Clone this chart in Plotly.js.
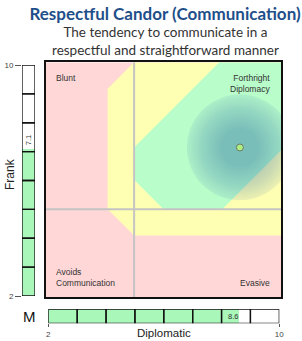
<!DOCTYPE html>
<html><head><meta charset="utf-8">
<script src="https://cdn.plot.ly/plotly-3.0.1.min.js"></script>
<style>html,body{margin:0;padding:0;background:#fff}#chart{width:302px;height:341px}</style>
</head><body><div id="chart"></div>
<script>
// ---- data ----
const diplomaticScore = 8.6;
const frankScore = 7.1;
const scaleTicks = [2, 3, 4, 5, 6, 7, 8, 9, 10];
const axisRange = [2, 10];
const midLines = [5];
const pinkZoneX = [2, 10, 10, 2];
const pinkZoneY = [2, 2, 10, 10];
const yellowZoneX = [5, 10, 10, 5, 4.1, 4.1];
const yellowZoneY = [10, 10, 4.1, 4.1, 5, 9.1];
const greenZoneX = [7.9, 10, 10, 8, 6, 5, 5];
const greenZoneY = [10, 10, 7, 5, 5, 6, 7.1];
const spreadRadius = 1.8;
const quadrantLabels = ["Blunt", "Forthright<br>Diplomacy", "Avoids<br>Communication", "Evasive"];

// ---- geometry ----
const W = 302, H = 341;
const px = (a, b) => [a / W, b / W];
const py = (top, bottom) => [1 - bottom / H, 1 - top / H];
const FONT = '"Liberation Sans", Arial, sans-serif';

function pathFrom(xs, ys) {
  return xs.map((x, i) => (i ? 'L' : 'M') + x + ',' + ys[i]).join(' ') + ' Z';
}

const shapes = [];
shapes.push({type: 'path', xref: 'x', yref: 'y', path: pathFrom(pinkZoneX, pinkZoneY), fillcolor: '#ffd7d7', line: {width: 0}, layer: 'below'});
shapes.push({type: 'path', xref: 'x', yref: 'y', path: pathFrom(yellowZoneX, yellowZoneY), fillcolor: '#ffffb3', line: {width: 0}, layer: 'below'});
shapes.push({type: 'path', xref: 'x', yref: 'y', path: pathFrom(greenZoneX, greenZoneY), fillcolor: '#b9fdca', line: {width: 0}, layer: 'below'});
midLines.forEach(v => {
  shapes.push({type: 'line', xref: 'x', yref: 'y', x0: v, x1: v, y0: axisRange[0], y1: axisRange[1], line: {color: '#c4c4c4', width: 2}, layer: 'below'});
  shapes.push({type: 'line', xref: 'x', yref: 'y', y0: v, y1: v, x0: axisRange[0], x1: axisRange[1], line: {color: '#c4c4c4', width: 2}, layer: 'below'});
});
// soft spread circle around the score (layered rings)
function addRing(f, alpha) {
  const r = spreadRadius * f;
  shapes.push({type: 'circle', xref: 'x', yref: 'y',
    x0: diplomaticScore - r, x1: diplomaticScore + r, y0: frankScore - r, y1: frankScore + r,
    fillcolor: 'rgba(42,100,178,' + alpha + ')', line: {width: 0}, layer: 'below'});
}
addRing(1.0, 0.1);
for (let i = 1; i <= 14; i++) addRing(1.0 - i * 0.045, 0.029);

// ---- traces ----
const traces = [];
traces.push({type: 'scatter', mode: 'markers', x: [diplomaticScore], y: [frankScore], xaxis: 'x', yaxis: 'y',
  marker: {size: 7, color: '#b0f080', line: {color: '#6a7a6a', width: 1}}, hoverinfo: 'skip'});

const segBase = scaleTicks.slice(0, -1);
const segLen = segBase.map((b, i) => scaleTicks[i + 1] - b);

// Frank bar (vertical)
traces.push({type: 'bar', orientation: 'v', x: [0], y: [frankScore - axisRange[0]], base: [axisRange[0]],
  xaxis: 'x2', yaxis: 'y2', marker: {color: '#a9f7b9', line: {width: 0}}, width: 1, hoverinfo: 'skip'});
traces.push({type: 'bar', orientation: 'v', x: segBase.map(() => 0), y: segLen, base: segBase,
  xaxis: 'x2', yaxis: 'y2', marker: {color: 'rgba(0,0,0,0)', line: {color: '#111', width: 1.3}}, width: 1, hoverinfo: 'skip'});

// Diplomatic bar (horizontal)
traces.push({type: 'bar', orientation: 'h', y: [0], x: [diplomaticScore - axisRange[0]], base: [axisRange[0]],
  xaxis: 'x3', yaxis: 'y3', marker: {color: '#a9f7b9', line: {width: 0}}, width: 1, hoverinfo: 'skip'});
traces.push({type: 'bar', orientation: 'h', y: segBase.map(() => 0), x: segLen, base: segBase,
  xaxis: 'x3', yaxis: 'y3', marker: {color: 'rgba(0,0,0,0)', line: {color: '#111', width: 1.3}}, width: 1, hoverinfo: 'skip'});

const hidden = {showgrid: false, zeroline: false, showticklabels: false, ticks: '', showline: false, fixedrange: true};

const annotations = [
  {text: 'The tendency to communicate in a<br>respectful and straightforward manner', xref: 'paper', yref: 'paper',
   x: 165 / W, y: 1 - 41 / H, xanchor: 'center', yanchor: 'middle', showarrow: false,
   font: {family: 'Lato, "Noto Sans", sans-serif', size: 13.5, color: '#333'}},
  {text: quadrantLabels[0], xref: 'x domain', yref: 'y domain', x: 0, y: 1, xshift: 8, yshift: -9, xanchor: 'left', yanchor: 'top', showarrow: false, align: 'left', font: {family: FONT, size: 8.5, color: '#333'}},
  {text: quadrantLabels[1], xref: 'x domain', yref: 'y domain', x: 1, y: 1, xshift: -9, yshift: -9, xanchor: 'right', yanchor: 'top', showarrow: false, align: 'right', font: {family: FONT, size: 8.5, color: '#333'}},
  {text: quadrantLabels[2], xref: 'x domain', yref: 'y domain', x: 0, y: 0, xshift: 8, yshift: 7, xanchor: 'left', yanchor: 'bottom', showarrow: false, align: 'left', font: {family: FONT, size: 8.5, color: '#333'}},
  {text: quadrantLabels[3], xref: 'x domain', yref: 'y domain', x: 1, y: 0, xshift: -9, yshift: 7, xanchor: 'right', yanchor: 'bottom', showarrow: false, align: 'right', font: {family: FONT, size: 8.5, color: '#333'}},
  {text: String(frankScore), xref: 'x2', yref: 'y2', x: 0, y: frankScore, yshift: 1, xanchor: 'center', yanchor: 'bottom', textangle: -90, showarrow: false, font: {family: FONT, size: 7.5, color: '#333'}},
  {text: String(diplomaticScore), xref: 'x3', yref: 'y3', x: diplomaticScore, y: 0, xshift: 1, xanchor: 'right', yanchor: 'middle', showarrow: false, font: {family: FONT, size: 7.5, color: '#333'}},
  {text: 'Frank', xref: 'paper', yref: 'paper', x: 10 / W, y: 1 - 174 / H, textangle: -90, xanchor: 'center', yanchor: 'middle', showarrow: false, font: {family: FONT, size: 12, color: '#222'}},
  {text: 'Diplomatic', xref: 'paper', yref: 'paper', x: 164 / W, y: 1 - 333 / H, xanchor: 'center', yanchor: 'middle', showarrow: false, font: {family: FONT, size: 11.5, color: '#222'}},
  {text: 'M', xref: 'paper', yref: 'paper', x: 30 / W, y: 1 - 316 / H, xanchor: 'center', yanchor: 'middle', showarrow: false, font: {family: FONT, size: 15, color: '#111'}}
];

const layout = {
  width: W, height: H, margin: {l: 0, r: 0, t: 0, b: 0},
  paper_bgcolor: '#fff', plot_bgcolor: '#fff', showlegend: false,
  bargap: 0, barmode: 'overlay',
  title: {text: 'Respectful Candor (Communication)', x: 165 / W, xanchor: 'center', y: 1 - 14 / H, yanchor: 'middle',
    font: {family: 'Lato, "Noto Sans", sans-serif', size: 17, weight: 700, color: '#1f4f8a'}},
  xaxis: Object.assign({}, hidden, {domain: px(46, 281), range: axisRange, showline: true, mirror: true, linecolor: '#111', linewidth: 2}),
  yaxis: Object.assign({}, hidden, {domain: py(62.3, 297.3), range: axisRange, showline: true, mirror: true, linecolor: '#111', linewidth: 2}),
  xaxis2: Object.assign({}, hidden, {domain: px(22, 35), range: [-0.5, 0.5], anchor: 'y2'}),
  yaxis2: Object.assign({}, hidden, {domain: py(65, 296), range: axisRange, anchor: 'x2', tickvals: [axisRange[0], axisRange[1]], showticklabels: true, ticks: 'outside', ticklen: 6, tickcolor: '#555', tickfont: {family: FONT, size: 8, color: '#444'}}),
  xaxis3: Object.assign({}, hidden, {domain: px(48.3, 279.3), range: axisRange, anchor: 'y3', tickvals: [axisRange[0], axisRange[1]], showticklabels: true, ticks: 'outside', ticklen: 3, tickcolor: '#555', tickfont: {family: FONT, size: 8, color: '#444'}}),
  yaxis3: Object.assign({}, hidden, {domain: py(309, 323.3), range: [-0.5, 0.5], anchor: 'x3'}),
  shapes: shapes,
  annotations: annotations
};

Plotly.newPlot('chart', traces, layout, {displayModeBar: false, staticPlot: true});
</script></body></html>
